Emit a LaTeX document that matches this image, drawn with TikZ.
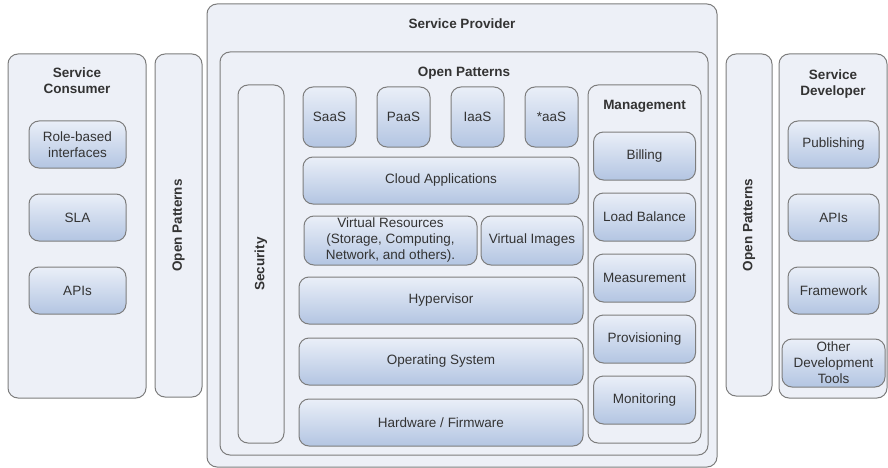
\documentclass[tikz,border=0pt]{standalone}
\usepackage{fontspec}
\setmainfont{Liberation Sans}
\usetikzlibrary{positioning}

\definecolor{panelfill}{HTML}{EDF0F7}
\definecolor{boxblue}{HTML}{B3C5E2}
\definecolor{boxpale}{HTML}{EAEFF8}
\definecolor{edgegray}{HTML}{7D7D7D}
\definecolor{labelgray}{HTML}{333333}

\tikzset{
    panel/.style={rectangle, rounded corners=10pt, draw=edgegray, line width=1pt, fill=panelfill, inner sep=0pt},
    sidebar/.style={panel, rotate=90, text=labelgray, font=\bfseries\fontsize{13.5}{16}\selectfont},
    % y axis points down here, so the shading is given upside down
    block/.style={rectangle, rounded corners=10pt, draw=edgegray, line width=1pt, top color=boxpale, bottom color=boxblue, align=center, text centered, inner sep=1pt, text=labelgray, font=\fontsize{13.5}{16}\selectfont},
    title/.style={align=center, inner sep=0pt, text=labelgray, font=\bfseries\fontsize{13.5}{16}\selectfont},
}

\begin{document}
\begin{tikzpicture}[x=1pt, y=-1pt]
    \useasboundingbox (0,0) rectangle (888,468);

    % left side
    \node [panel, minimum width=138pt, minimum height=344pt] (consumer) at (77,226) {};
    \node [title, below=14pt of consumer.north] (consumertitle) {Service\\Consumer};
    \node [block, minimum width=97pt, minimum height=47pt] (roles) at (77.5,144.5) {Role-based\\interfaces};
    \node [block, minimum width=97pt, minimum height=47pt, below=25pt of roles] (sla) {SLA};
    \node [block, minimum width=97pt, minimum height=47pt, below=25pt of sla] (consumerapis) {APIs};
    \node [sidebar, minimum width=343pt, minimum height=47pt] (patternsleft) at (178.5,225.5) {Open Patterns};

    % service provider
    \node [panel, minimum width=510pt, minimum height=463pt] (provider) at (462,235.5) {};
    \node [title, below=15pt of provider.north] (providertitle) {Service Provider};
    \node [panel, minimum width=488pt, minimum height=403pt] (patternsinner) at (464,253.5) {};
    \node [title, below=15pt of patternsinner.north] (patternstitle) {Open Patterns};
    \node [sidebar, minimum width=358pt, minimum height=46pt] (security) at (261,264) {Security};

    \node [block, minimum width=53pt, minimum height=60pt] (saas) at (329.5,117) {SaaS};
    \node [block, minimum width=53pt, minimum height=60pt, right=20pt of saas] (paas) {PaaS};
    \node [block, minimum width=53pt, minimum height=60pt, right=20pt of paas] (iaas) {IaaS};
    \node [block, minimum width=53pt, minimum height=60pt, right=20pt of iaas] (anyaas) {*aaS};
    \node [block, minimum width=276pt, minimum height=47pt] (cloudapps) at (441,180.5) {Cloud Applications};
    \node [block, minimum width=173pt, minimum height=49pt] (virtres) at (390.5,240.5) {Virtual Resources\\(Storage, Computing,\\Network, and others).};
    \node [block, minimum width=102pt, minimum height=49pt] (virtimages) at (532,240.5) {Virtual Images};
    \node [block, minimum width=284pt, minimum height=47pt] (hypervisor) at (441,300.5) {Hypervisor};
    \node [block, minimum width=284pt, minimum height=47pt, below=13pt of hypervisor] (os) {Operating System};
    \node [block, minimum width=284pt, minimum height=47pt, below=13pt of os] (hardware) {Hardware / Firmware};

    \node [panel, minimum width=113pt, minimum height=358pt] (management) at (644.5,264) {};
    \node [title, below=16pt of management.north] (managementtitle) {Management};
    \node [block, minimum width=102pt, minimum height=48pt] (billing) at (644.5,156) {Billing};
    \node [block, minimum width=102pt, minimum height=48pt, below=12pt of billing] (loadbalance) {Load Balance};
    \node [block, minimum width=102pt, minimum height=48pt, below=12pt of loadbalance] (measurement) {Measurement};
    \node [block, minimum width=102pt, minimum height=48pt, below=12pt of measurement] (provisioning) {Provisioning};
    \node [block, minimum width=102pt, minimum height=48pt, below=12pt of provisioning] (monitoring) {Monitoring};

    % right side
    \node [sidebar, minimum width=342pt, minimum height=46pt] (patternsright) at (749,225) {Open Patterns};
    \node [panel, minimum width=108pt, minimum height=344pt] (developer) at (833,226) {};
    \node [title, below=16pt of developer.north] (developertitle) {Service\\Developer};
    \node [block, minimum width=91pt, minimum height=47pt] (publishing) at (833.5,144.5) {Publishing};
    \node [block, minimum width=91pt, minimum height=47pt, below=25pt of publishing] (developerapis) {APIs};
    \node [block, minimum width=91pt, minimum height=47pt, below=25pt of developerapis] (framework) {Framework};
    \node [block, minimum width=103pt, minimum height=48pt, below=24pt of framework] (othertools) {Other\\Development\\Tools};
\end{tikzpicture}
\end{document}
